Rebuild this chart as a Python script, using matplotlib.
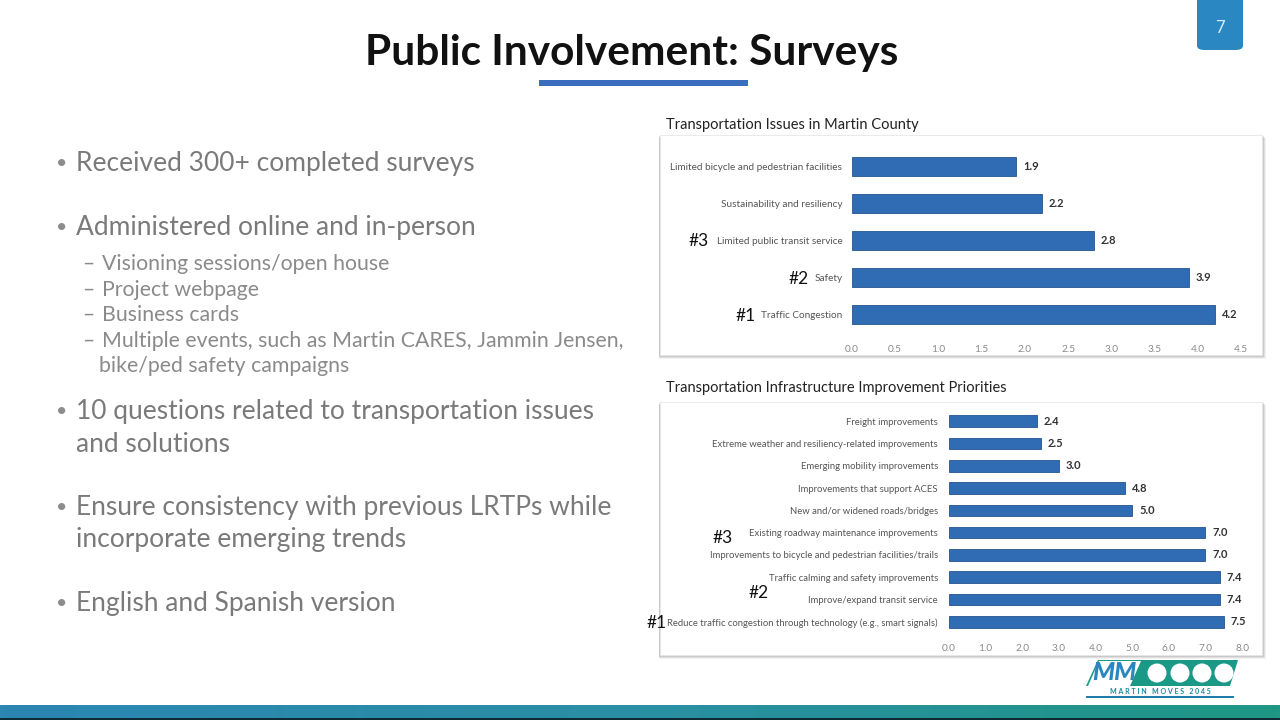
import matplotlib
matplotlib.use('Agg')
import matplotlib.pyplot as plt
from matplotlib.patches import Rectangle, FancyBboxPatch, Polygon, Ellipse
import numpy as np

# Chart data
issues = ['Traffic Congestion', 'Safety', 'Limited public transit service',
          'Sustainability and resiliency', 'Limited bicycle and pedestrian facilities']
issue_scores = [4.2, 3.9, 2.8, 2.2, 1.9]
issue_ranks = ['#1', '#2', '#3', '', '']
issue_ticks = [0.0, 0.5, 1.0, 1.5, 2.0, 2.5, 3.0, 3.5, 4.0, 4.5]

priorities = ['Reduce traffic congestion through technology (e.g., smart signals)',
              'Improve/expand transit service',
              'Traffic calming and safety improvements',
              'Improvements to bicycle and pedestrian facilities/trails',
              'Existing roadway maintenance improvements',
              'New and/or widened roads/bridges',
              'Improvements that support ACES',
              'Emerging mobility improvements',
              'Extreme weather and resiliency-related improvements',
              'Freight improvements']
priority_scores = [7.5, 7.4, 7.4, 7.0, 7.0, 5.0, 4.8, 3.0, 2.5, 2.4]
priority_ticks = [0.0, 1.0, 2.0, 3.0, 4.0, 5.0, 6.0, 7.0, 8.0]

bullets = [
    ('main', 'Received 300+ completed surveys', 162),
    ('main', 'Administered online and in-person', 226),
    ('sub', 'Visioning sessions/open house', 263),
    ('sub', 'Project webpage', 289),
    ('sub', 'Business cards', 314),
    ('sub', 'Multiple events, such as Martin CARES, Jammin Jensen,', 340),
    ('cont_sub', 'bike/ped safety campaigns', 365),
    ('main', '10 questions related to transportation issues', 410),
    ('cont', 'and solutions', 442),
    ('main', 'Ensure consistency with previous LRTPs while', 506),
    ('cont', 'incorporate emerging trends', 538),
    ('main', 'English and Spanish version', 602),
]

W, H = 1280, 720
plt.rcParams['font.family'] = ['Lato', 'DejaVu Sans']
fig = plt.figure(figsize=(12.8, 7.2), dpi=100)
fig.patch.set_facecolor('white')


def fx(x):
    return x / W


def fy(y):
    return 1 - y / H


def box(x0, y0, x1, y1):
    # chart panel with a soft shadow
    for i, a in enumerate([0.05, 0.07, 0.1]):
        d = 4 - i
        fig.patches.append(Rectangle((fx(x0 - 1), fy(y1 + d)), fx(x1 - x0 + d + 1), (y1 - y0 + 1) / H,
                                     transform=fig.transFigure, facecolor='black', alpha=a,
                                     edgecolor='none', zorder=0))
    fig.patches.append(Rectangle((fx(x0), fy(y1)), fx(x1 - x0), (y1 - y0) / H,
                                 transform=fig.transFigure, facecolor='white',
                                 edgecolor='#e6e6e6', lw=0.6, zorder=0))


# Title and underline
fig.text(fx(632), fy(53), 'Public Involvement: Surveys', ha='center', va='center',
         fontsize=30.5, color='#111111', fontweight='bold')
fig.patches.append(Rectangle((fx(539), fy(86)), fx(748 - 539), 6 / H, transform=fig.transFigure,
                             facecolor='#3a6dbd', edgecolor='none'))

# Page number tab
fig.patches.append(FancyBboxPatch((fx(1197), fy(50)), fx(46), 60 / H, transform=fig.transFigure,
                                  boxstyle='round,pad=0,rounding_size=0.006',
                                  facecolor='#2b87c2', edgecolor='none'))
fig.text(fx(1220), fy(28), '7', ha='center', va='center', fontsize=12, color='#d8ecf8')

# Bottom band
grad = np.linspace(0, 1, 256).reshape(1, -1)
band = fig.add_axes([0, fy(718), 1, 13 / H])
band.imshow(grad, aspect='auto', cmap=matplotlib.colors.LinearSegmentedColormap.from_list(
    'band', ['#2b86b2', '#2a8fa4', '#1f9784']), extent=[0, 1, 0, 1])
band.axis('off')
band.set_zorder(3)
fig.patches.append(Rectangle((0, 0), 1, 2 / H, transform=fig.transFigure,
                             facecolor='#0d2a35', edgecolor='none'))

# Bullet list
for kind, txt, y in bullets:
    if kind == 'main':
        fig.text(fx(62), fy(y + 1), '•', ha='center', va='center', fontsize=14, color='#8c8c8c')
        fig.text(fx(76), fy(y + 2), txt, ha='left', va='center', fontsize=19, color='#7a7a7a')
    elif kind == 'cont':
        fig.text(fx(76), fy(y + 2), txt, ha='left', va='center', fontsize=19, color='#7a7a7a')
    elif kind == 'sub':
        fig.text(fx(88), fy(y + 1), '–', ha='center', va='center', fontsize=15, color='#8a8a8a')
        fig.text(fx(102), fy(y + 1), txt, ha='left', va='center', fontsize=15.3, color='#8a8a8a')
    else:
        fig.text(fx(99), fy(y + 1), txt, ha='left', va='center', fontsize=15.3, color='#8a8a8a')

bar_color = '#2f6cb3'
edge_color = '#23548f'

# Chart 1: Transportation Issues
fig.text(fx(666), fy(125), 'Transportation Issues in Martin County', ha='left', va='center',
         fontsize=10.5, color='#222222')
box(660, 135, 1262, 355)
ax1 = fig.add_axes([fx(852), fy(333.5), fx(1241 - 852), 186 / H])
ax1.set_zorder(2)
y1 = np.arange(len(issues))
ax1.barh(y1, issue_scores, height=0.51, color=bar_color, edgecolor=edge_color, linewidth=0.6)
ax1.set_xlim(0, 4.5)
ax1.set_ylim(-0.5, len(issues) - 0.5)
ax1.set_xticks(issue_ticks)
ax1.set_xticklabels([f'{t:.1f}' for t in issue_ticks], fontsize=7.3, color='#8a8a8a')
ax1.set_yticks(y1)
ax1.set_yticklabels(issues, fontsize=7.2, color='#555555')
ax1.tick_params(length=0, pad=7)
ax1.tick_params(axis='x', pad=8)
for s in ax1.spines.values():
    s.set_visible(False)
ax1.patch.set_alpha(0)
for yy, v in zip(y1, issue_scores):
    ax1.text(v + 0.08, yy, f'{v:.1f}', va='center', ha='left', fontsize=8, fontweight='bold',
             color='#333333')
rank1_x = {'#1': 746, '#2': 799, '#3': 699}
for yy, r in zip(y1, issue_ranks):
    if r:
        fig.text(fx(rank1_x[r]), fy(333.5 - (yy + 0.5) * 37.2 + 1), r, ha='center',
                 va='center', fontsize=12.5, color='#111111')

# Chart 2: Infrastructure Improvement Priorities
fig.text(fx(666), fy(388), 'Transportation Infrastructure Improvement Priorities', ha='left',
         va='center', fontsize=10.5, color='#222222')
box(660, 402, 1262, 655)
ax2 = fig.add_axes([fx(949), fy(633), fx(1242 - 949), 223 / H])
ax2.set_zorder(2)
y2 = np.arange(len(priorities))
ax2.barh(y2, priority_scores, height=0.52, color=bar_color, edgecolor=edge_color, linewidth=0.6)
ax2.set_xlim(0, 8)
ax2.set_ylim(-0.5, len(priorities) - 0.5)
ax2.set_xticks(priority_ticks)
ax2.set_xticklabels([f'{t:.1f}' for t in priority_ticks], fontsize=7.3, color='#8a8a8a')
ax2.set_yticks(y2)
ax2.set_yticklabels(priorities, fontsize=6.8, color='#555555')
ax2.tick_params(length=0, pad=8)
ax2.tick_params(axis='x', pad=8)
for s in ax2.spines.values():
    s.set_visible(False)
ax2.patch.set_alpha(0)
for yy, v in zip(y2, priority_scores):
    ax2.text(v + 0.19, yy, f'{v:.1f}', va='center', ha='left', fontsize=8, fontweight='bold',
             color='#333333')
fig.text(fx(723), fy(538), '#3', ha='center', va='center', fontsize=12.5, color='#111111', zorder=5)
fig.text(fx(759), fy(593), '#2', ha='center', va='center', fontsize=12.5, color='#111111', zorder=5)
fig.text(fx(657), fy(623), '#1', ha='center', va='center', fontsize=12.5, color='#111111', zorder=5)

# Martin Moves logo (approximation)
fig.patches.append(Polygon([(fx(1086), fy(686)), (fx(1098), fy(660)), (fx(1238), fy(660)),
                            (fx(1230), fy(686))], closed=True, transform=fig.transFigure,
                           facecolor='#1a9a86', edgecolor='none'))
fig.patches.append(Polygon([(fx(1088), fy(686)), (fx(1099), fy(661)), (fx(1141), fy(661)),
                            (fx(1130), fy(686))], closed=True, transform=fig.transFigure,
                           facecolor='white', edgecolor='none'))
fig.text(fx(1114), fy(673), 'MM', ha='center', va='center', fontsize=18, fontweight='black',
         style='italic', color='#2a86c0')
for cx in [1157, 1180, 1202, 1224]:
    fig.patches.append(Ellipse((fx(cx), fy(673)), 19 / W, 19 / H,
                               transform=fig.transFigure, facecolor='white', edgecolor='none'))
fig.text(fx(1160), fy(691), 'M A R T I N   M O V E S   2 0 4 5', ha='center', va='center',
         fontsize=5, fontweight='bold', color='#1a8a9a')
fig.patches.append(Rectangle((fx(1086), fy(698)), fx(148), 2 / H, transform=fig.transFigure,
                             facecolor='#1f7fa8', edgecolor='none'))

fig.savefig('out.png', dpi=100, facecolor='white')
